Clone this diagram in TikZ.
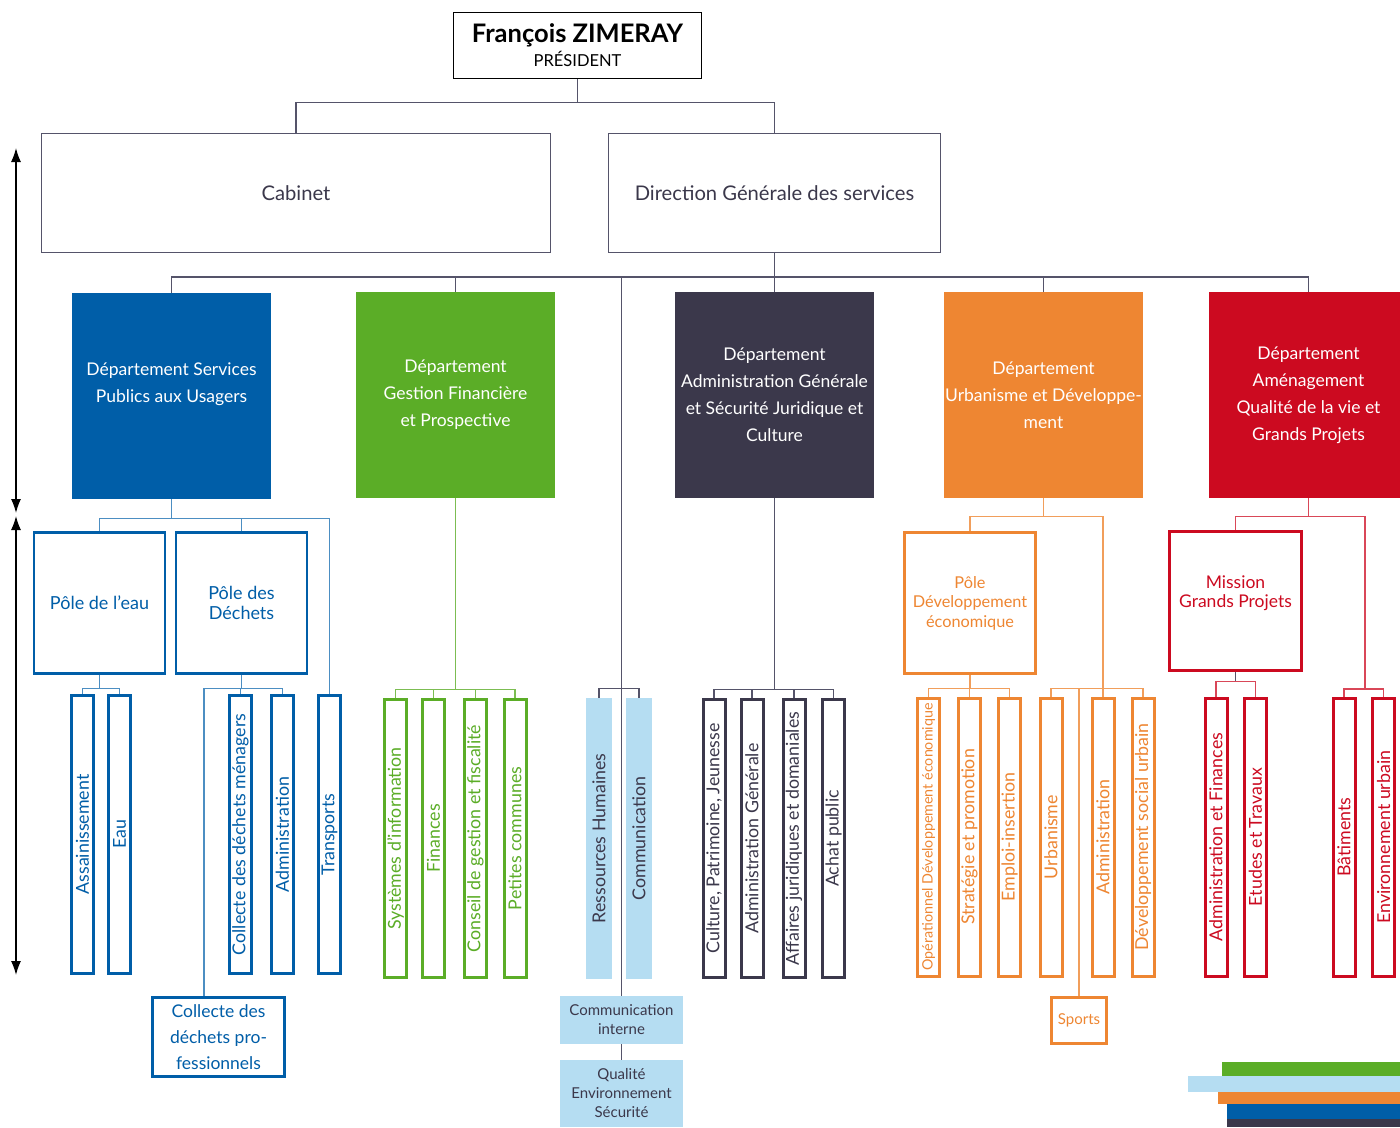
\documentclass[tikz,border=0pt]{standalone}
\usepackage{fontspec}
\setmainfont{Lato}
\usetikzlibrary{arrows.meta,backgrounds}
\definecolor{cblue}{HTML}{005EA8}
\definecolor{cgreen}{HTML}{5BAD27}
\definecolor{cdark}{HTML}{3B384B}
\definecolor{corange}{HTML}{EE8632}
\definecolor{cred}{HTML}{CC0A20}
\definecolor{clight}{HTML}{B5DDF2}
\definecolor{cline}{HTML}{55546A}
\tikzset{
  conn/.style={draw=cline, line width=1.3pt},
  bconn/.style={draw=cblue!70, line width=1.2pt},
  gconn/.style={draw=cgreen!80, line width=1.2pt},
  oconn/.style={draw=corange!80, line width=1.2pt},
  rconn/.style={draw=cred!75, line width=1.2pt},
  topbox/.style={draw=cline, line width=1.2pt, fill=white, text=cdark, inner sep=0pt, align=center},
  dept/.style={fill=#1, draw=none, text=white, minimum width=199, minimum height=206, inner sep=0pt, align=center, font=\fontsize{17.5}{27}\selectfont},
  pole/.style={draw=#1, line width=2.6pt, fill=white, text=#1, minimum width=131, minimum height=141, inner sep=0pt, align=center, font=\fontsize{18}{20}\selectfont},
  sub/.style={draw=#1, line width=3pt, fill=white, text=#1, minimum width=22, minimum height=278, inner sep=0pt, font=\fontsize{17.8}{18}\selectfont},
  lsub/.style={fill=clight, draw=none, text=cdark, minimum width=26, minimum height=281, inner sep=0pt, font=\fontsize{17.8}{18}\selectfont},
  lbox/.style={fill=clight, draw=none, text=cdark, minimum width=123, inner sep=0pt, align=center, font=\fontsize{15}{19}\selectfont},
  arr/.style={draw=black, line width=1.3pt, {Latex[length=14pt,width=10pt]}-{Latex[length=14pt,width=10pt]}},
}
\newcommand{\vt}[1]{\rotatebox{90}{#1}}
\begin{document}
\begin{tikzpicture}[x=1pt,y=-1pt]
\useasboundingbox (0,0) rectangle (1400,1127);
\clip (0,0) rectangle (1400,1127);

% top
\node[topbox, draw=black, text=black, line width=1.3pt, minimum width=248, minimum height=66, font=\fontsize{16.5}{24}\selectfont] (pres) at (577.5,45.5)
  {{\fontsize{25.5}{24}\selectfont\bfseries François ZIMERAY}\\PRÉSIDENT};
\node[topbox, minimum width=509, minimum height=119, font=\fontsize{20.2}{23}\selectfont] (cab) at (296,193) {Cabinet};
\node[topbox, minimum width=332, minimum height=119, font=\fontsize{20.2}{23}\selectfont] (dgs) at (774.5,193) {Direction Générale des services};

% departments
\node[dept=cblue] (dsp) at (171.5,396) {Département Services\\Publics aux Usagers\\\mbox{}};
\node[dept=cgreen] (dgf) at (455.5,395) {Département\\Gestion Financière\\et Prospective};
\node[dept=cdark] (dag) at (774.5,395) {Département\\Administration Générale\\et Sécurité Juridique et\\Culture};
\node[dept=corange] (dud) at (1043.5,395) {Département\\Urbanisme et Développe-\\ment};
\node[dept=cred] (dam) at (1308.5,395) {Département\\Aménagement\\Qualité de la vie et\\Grands Projets};

% blue
\node[pole=cblue] (peau) at (99.5,603) {Pôle de l’eau};
\node[pole=cblue] (pdech) at (241.5,603) {Pôle des\\Déchets};
\node[sub=cblue] (assain) at (82.5,834.5) {\vt{Assainissement}};
\node[sub=cblue] (eau) at (119.5,834.5) {\vt{Eau}};
\node[sub=cblue] (cmen) at (240.5,834.5) {\vt{Collecte des déchets ménagers}};
\node[sub=cblue] (adma) at (282.5,834.5) {\vt{Administration}};
\node[sub=cblue] (transp) at (329.5,834.5) {\vt{Transports}};
\node[pole=cblue, minimum width=132, minimum height=79, font=\fontsize{17.5}{26}\selectfont] (cpro) at (218.5,1037) {Collecte des\\déchets pro-\\fessionnels};

% green
\node[sub=cgreen] (syst) at (395.5,838.5) {\vt{Systèmes d’information}};
\node[sub=cgreen] (fin) at (433.5,838.5) {\vt{Finances}};
\node[sub=cgreen] (cons) at (475.5,838.5) {\vt{Conseil de gestion et fiscalité}};
\node[sub=cgreen] (pet) at (515,838.5) {\vt{Petites communes}};

% light blue
\node[lsub] (rh) at (599,838.5) {\vt{Ressources Humaines}};
\node[lsub] (comm) at (639,838.5) {\vt{Communication}};
\node[lbox, minimum height=48] (cint) at (621.5,1020) {Communication\\interne};
\node[lbox, minimum height=67] (qes) at (621.5,1093.5) {Qualité\\Environnement\\Sécurité};

% dark
\node[sub=cdark] (cult) at (714,838.5) {\vt{Culture, Patrimoine, Jeunesse}};
\node[sub=cdark] (admg) at (752,838.5) {\vt{Administration Générale}};
\node[sub=cdark] (aff) at (794,838.5) {\vt{Affaires juridiques et domaniales}};
\node[sub=cdark] (achat) at (833.5,838.5) {\vt{Achat public}};

% orange
\node[pole=corange, font=\fontsize{16.3}{19.5}\selectfont] (pdev) at (970,603) {Pôle\\Développement\\économique};
\node[sub=corange, font=\fontsize{14.3}{15}\selectfont] (oped) at (928.5,837) {\vt{Opérationnel Développement économique}};
\node[sub=corange] (strat) at (969.5,837) {\vt{Stratégie et promotion}};
\node[sub=corange] (emp) at (1009.5,837) {\vt{Emploi-insertion}};
\node[sub=corange] (urb) at (1051,837) {\vt{Urbanisme}};
\node[sub=corange] (admo) at (1103,837) {\vt{Administration}};
\node[sub=corange] (dsu) at (1143,837) {\vt{Développement social urbain}};
\node[pole=corange, minimum width=55, minimum height=46, font=\fontsize{15}{18}\selectfont] (sports) at (1079,1020.5) {Sports};

% red
\node[pole=cred, minimum width=132, minimum height=139, font=\fontsize{17.5}{18.5}\selectfont] (miss) at (1235.5,601) {Mission\\Grands Projets\\\mbox{}};
\node[sub=cred] (af) at (1216,837) {\vt{Administration et Finances}};
\node[sub=cred] (etu) at (1255.5,837) {\vt{Etudes et Travaux}};
\node[sub=cred] (bat) at (1344,837) {\vt{Bâtiments}};
\node[sub=cred] (env) at (1383.5,837) {\vt{Environnement urbain}};
\coordinate (rj) at (1365,689);
\coordinate (pj) at (204,689);

% arrows on the left
\coordinate (a1) at (16,148);
\coordinate (a2) at (16,513);
\coordinate (a3) at (16,516);
\coordinate (a4) at (16,975);
\draw[arr] (a1) -- (a2);
\draw[arr] (a3) -- (a4);

% colour bars
\fill[cgreen] (1222,1062) rectangle (1400,1076);
\fill[clight] (1188,1076) rectangle (1400,1092);
\fill[corange] (1218,1092) rectangle (1400,1104);
\fill[cblue] (1227,1104) rectangle (1400,1119);
\fill[cdark] (1227,1119) rectangle (1400,1127);

\begin{pgfonlayer}{background}
% top level
\draw[conn] (pres.south) -- ++(0,23) -| (cab.north);
\draw[conn] (pres.south) -- ++(0,23) -| (dgs.north);
\draw[conn] (dgs.south) -- ++(0,24) -| (dsp.north);
\draw[conn] (dgs.south) -- ++(0,24) -| (dgf.north);
\draw[conn] (dgs.south) -- (dag.north);
\draw[conn] (dgs.south) -- ++(0,24) -| (dud.north);
\draw[conn] (dgs.south) -- ++(0,24) -| (dam.north);
\draw[conn] (dgs.south) -- ++(0,24) -| (qes.north);
\draw[conn] (rh.north) -- ++(0,-9) -| (comm.north);
% blue
\draw[bconn] (dsp.south) -- ++(0,19) -| (peau.north);
\draw[bconn] (dsp.south) -- ++(0,19) -| (pdech.north);
\draw[bconn] (dsp.south) -- ++(0,19) -| (transp.north);
\draw[bconn] (peau.south) -- ++(0,14) -| (assain.north);
\draw[bconn] (peau.south) -- ++(0,14) -| (eau.north);
\draw[bconn] (pdech.south) -- ++(0,14) -| (cmen.north);
\draw[bconn] (pdech.south) -- ++(0,14) -| (adma.north);
\draw[bconn] (pdech.south) -- ++(0,14) -| (pj) -- (pj |- cpro.north);
% green
\draw[gconn] (dgf.south) -- ++(0,191) -| (syst.north);
\draw[gconn] (dgf.south) -- ++(0,191) -| (fin.north);
\draw[gconn] (dgf.south) -- ++(0,191) -| (cons.north);
\draw[gconn] (dgf.south) -- ++(0,191) -| (pet.north);
% dark
\draw[conn] (dag.south) -- ++(0,191) -| (cult.north);
\draw[conn] (dag.south) -- ++(0,191) -| (admg.north);
\draw[conn] (dag.south) -- ++(0,191) -| (aff.north);
\draw[conn] (dag.south) -- ++(0,191) -| (achat.north);
% orange
\draw[oconn] (dud.south) -- ++(0,18) -| (pdev.north);
\draw[oconn] (dud.south) -- ++(0,18) -| (admo.north);
\draw[oconn] (admo.north) ++(0,-8) -| (urb.north);
\draw[oconn] (admo.north) ++(0,-8) -| (dsu.north);
\draw[oconn] (admo.north) ++(0,-8) -| (sports.north);
\draw[oconn] (pdev.south) -- ++(0,14) -| (oped.north);
\draw[oconn] (pdev.south) -- ++(0,14) -| (strat.north);
\draw[oconn] (pdev.south) -- ++(0,14) -| (emp.north);
% red
\draw[rconn] (dam.south) -- ++(0,18) -| (miss.north);
\draw[rconn] (dam.south) -- ++(0,18) -| (rj);
\draw[rconn] (bat.north) |- (rj) -| (env.north);
\draw[conn] (miss.south) -- ++(0,10);
\draw[rconn] (miss.south) ++(0,10) -| (af.north);
\draw[rconn] (miss.south) ++(0,10) -| (etu.north);
\end{pgfonlayer}
\end{tikzpicture}
\end{document}
